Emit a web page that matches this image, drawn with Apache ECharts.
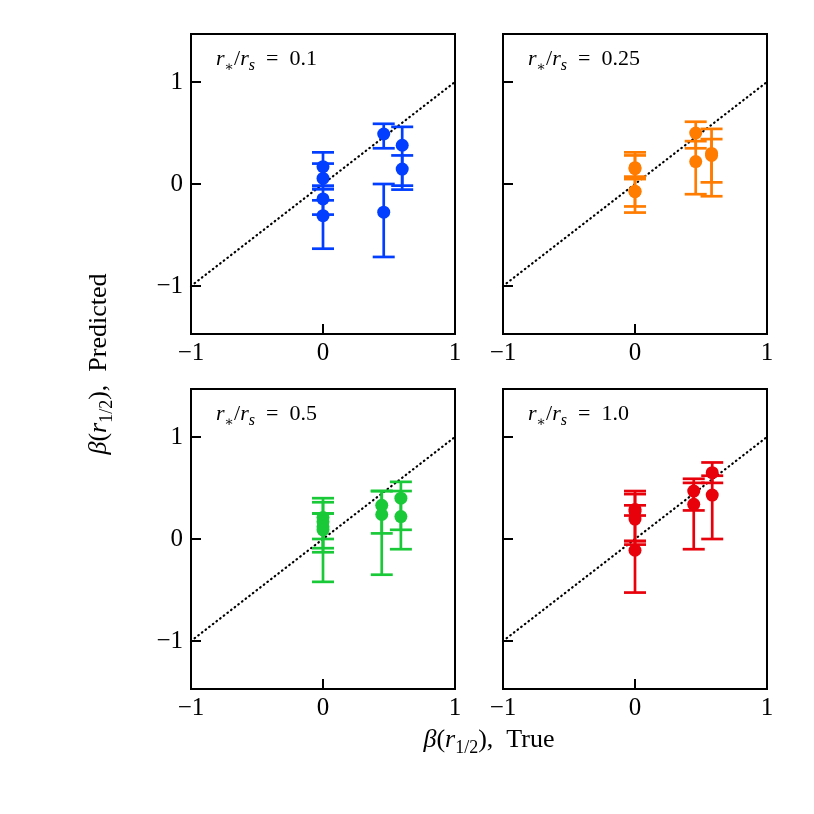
<!DOCTYPE html>
<html>
<head>
<meta charset="utf-8">
<script src="https://cdn.jsdelivr.net/npm/echarts@6/dist/echarts.min.js"></script>
<style>
  html, body { margin: 0; padding: 0; background: #fff; }
  #chart { width: 814px; height: 814px; }
</style>
</head>
<body>
<div id="chart"></div>
<script>
// r*/rs labels of the four panels
const panelLabels = ['0.1', '0.25', '0.5', '1.0'];
const panelColors = ['#023eff', '#ff7c00', '#1ac938', '#e8000b'];
const tickValues = [-1, 0, 1];

// r*/rs = 0.1
const true01 = [0, 0, 0, 0, 0.46, 0.46, 0.6, 0.6];
const pred01 = [0.17, 0.055, -0.146, -0.31, 0.49, -0.276, 0.38, 0.146];
const low01 = [-0.016, -0.049, -0.30, -0.634, 0.35, -0.715, -0.016, -0.055];
const high01 = [0.31, 0.2, -0.05, -0.16, 0.59, 0.0, 0.56, 0.28];

// r*/rs = 0.25
const true025 = [0, 0, 0, 0, 0.46, 0.46, 0.58, 0.58];
const pred025 = [0.16, 0.15, -0.075, -0.07, 0.50, 0.22, 0.30, 0.28];
const low025 = [0.05, 0.07, -0.22, -0.28, 0.35, -0.1, 0.016, -0.12];
const high025 = [0.31, 0.28, 0.07, 0.05, 0.61, 0.42, 0.44, 0.54];

// r*/rs = 0.5
const true05 = [0, 0, 0, 0, 0.445, 0.445, 0.59, 0.59];
const pred05 = [0.21, 0.17, 0.12, 0.09, 0.33, 0.24, 0.40, 0.22];
const low05 = [-0.09, 0.0, -0.42, -0.13, 0.055, -0.35, 0.09, -0.10];
const high05 = [0.40, 0.36, 0.25, 0.25, 0.47, 0.47, 0.56, 0.47];

// r*/rs = 1.0
const true10 = [0, 0, 0, 0, 0.445, 0.445, 0.585, 0.585];
const pred10 = [0.29, 0.27, 0.195, -0.11, 0.47, 0.34, 0.65, 0.43];
const low10 = [-0.055, 0.23, -0.02, -0.525, 0.28, -0.10, 0.55, 0.0];
const high10 = [0.47, 0.33, 0.44, -0.02, 0.59, 0.55, 0.75, 0.62];

const panels = [
  [true01, pred01, low01, high01],
  [true025, pred025, low025, high025],
  [true05, pred05, low05, high05],
  [true10, pred10, low10, high10]
];

const FONT = '"Liberation Serif", "DejaVu Serif", serif';
const gridBoxes = [
  { left: 191, top: 34 }, { left: 503, top: 34 },
  { left: 191, top: 389 }, { left: 503, top: 389 }
];

const minus = v => (v < 0 ? '\u2212' + (-v) : String(v));

const grids = [], xAxes = [], yAxes = [], series = [], graphics = [];

panels.forEach((p, i) => {
  const box = gridBoxes[i];
  const color = panelColors[i];
  grids.push({
    left: box.left, top: box.top, width: 264, height: 300,
    show: true, borderColor: '#000', borderWidth: 2, backgroundColor: 'transparent'
  });
  xAxes.push({
    gridIndex: i, type: 'value', min: -1, max: 1, interval: 1, position: 'bottom',
    axisLine: { show: false, onZero: false },
    splitLine: { show: false },
    axisTick: { inside: true, length: 10, lineStyle: { color: '#000', width: 2 } },
    axisLabel: { formatter: minus, color: '#000', fontFamily: FONT, fontSize: 25, margin: 7 }
  });
  yAxes.push({
    gridIndex: i, type: 'value', min: -1.47, max: 1.47, position: 'left',
    axisLine: { show: false, onZero: false },
    splitLine: { show: false },
    axisTick: { inside: true, length: 10, customValues: tickValues, lineStyle: { color: '#000', width: 2 } },
    axisLabel: {
      show: i % 2 === 0, customValues: tickValues, formatter: minus,
      color: '#000', fontFamily: FONT, fontSize: 25, margin: 8
    }
  });

  // one-to-one reference line
  series.push({
    type: 'line', xAxisIndex: i, yAxisIndex: i,
    data: [[-1, -1], [1, 1]], symbol: 'none', silent: true,
    lineStyle: { color: '#000', width: 2.2, type: [0.6, 4], cap: 'round' },
    z: 1
  });

  // error bars
  series.push({
    type: 'custom', xAxisIndex: i, yAxisIndex: i,
    data: p[0].map((x, k) => [x, p[2][k], p[3][k]]),
    encode: { x: 0, y: [1, 2] },
    z: 3,
    renderItem: function (params, api) {
      const x = api.value(0);
      const top = api.coord([x, api.value(2)]);
      const bot = api.coord([x, api.value(1)]);
      const cap = 11;
      const st = { stroke: color, lineWidth: 2.7 };
      return {
        type: 'group',
        children: [
          { type: 'line', shape: { x1: top[0], y1: top[1], x2: bot[0], y2: bot[1] }, style: st },
          { type: 'line', shape: { x1: top[0] - cap, y1: top[1], x2: top[0] + cap, y2: top[1] }, style: st },
          { type: 'line', shape: { x1: bot[0] - cap, y1: bot[1], x2: bot[0] + cap, y2: bot[1] }, style: st }
        ]
      };
    }
  });

  // points
  series.push({
    type: 'scatter', xAxisIndex: i, yAxisIndex: i,
    data: p[0].map((x, k) => [x, p[1][k]]),
    symbol: 'circle', symbolSize: 13,
    itemStyle: { color: color, opacity: 1 },
    z: 4
  });

  // panel label r*/rs = value
  graphics.push({
    type: 'text', left: box.left + 25, top: box.top + 14,
    style: {
      text: '{i|r}{s|\u2217}{n|/}{i|r}{si|s}{n|  =  ' + panelLabels[i] + '}',
      fill: '#000',
      rich: {
        i: { fontFamily: FONT, fontStyle: 'italic', fontSize: 22, lineHeight: 26, verticalAlign: 'top' },
        n: { fontFamily: FONT, fontSize: 22, lineHeight: 26, verticalAlign: 'top' },
        s: { fontFamily: FONT, fontSize: 14, lineHeight: 14, verticalAlign: 'bottom' },
        si: { fontFamily: FONT, fontStyle: 'italic', fontSize: 16, lineHeight: 14, verticalAlign: 'bottom' }
      }
    }
  });
});

const richTitle = {
  i: { fontFamily: FONT, fontStyle: 'italic', fontSize: 26, lineHeight: 30, verticalAlign: 'top' },
  n: { fontFamily: FONT, fontSize: 26, lineHeight: 30, verticalAlign: 'top' },
  s: { fontFamily: FONT, fontSize: 18, lineHeight: 17, verticalAlign: 'bottom' }
};

// x title
graphics.push({
  type: 'text', x: 489, y: 742,
  style: {
    text: '{i|\u03b2}{n|(}{i|r}{s|1/2}{n|),  True}',
    align: 'center', verticalAlign: 'middle', fill: '#000', rich: richTitle
  }
});
// y title
graphics.push({
  type: 'text', x: 101, y: 364, rotation: Math.PI / 2,
  style: {
    text: '{i|\u03b2}{n|(}{i|r}{s|1/2}{n|),  Predicted}',
    align: 'center', verticalAlign: 'middle', fill: '#000', rich: richTitle
  }
});

const chart = echarts.init(document.getElementById('chart'));
chart.setOption({
  backgroundColor: '#fff',
  animation: false,
  grid: grids,
  xAxis: xAxes,
  yAxis: yAxes,
  series: series,
  graphic: graphics
});
</script>
</body>
</html>
